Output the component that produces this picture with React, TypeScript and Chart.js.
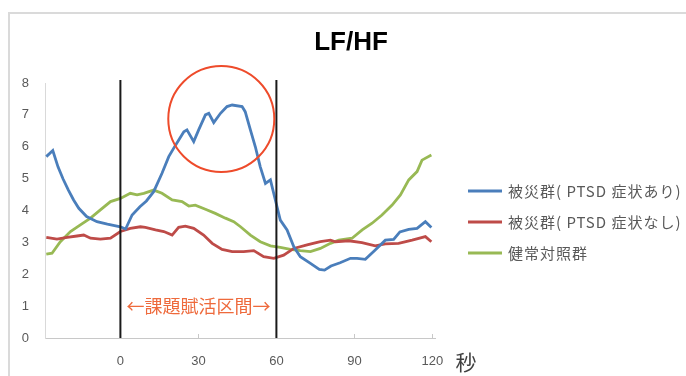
import { useEffect, useRef } from 'react';
import { Chart, registerables } from 'chart.js';

Chart.register(...registerables);

// LF/HF time courses (seconds relative to task onset)
const seriesLabels = ['被災群( PTSD 症状あり)', '被災群( PTSD 症状なし)', '健常対照群'];
const seriesColors = ['#4a7ebb', '#be4b48', '#98b954'];

const ptsdYesSec = [-28.5, -26, -24, -22, -20, -18, -16, -13, -9, -5, 0, 2, 4.5, 7.5, 10, 12.8, 16, 18.6, 21.2, 24.4, 25.6, 28.2, 30.1, 32.7, 34, 35.9, 38.5, 41, 43, 46.8, 48, 50, 51.9, 53.8, 55.8, 57.7, 59.6, 61.5, 64.1, 66.7, 69.2, 73.1, 76.5, 78.5, 81, 84.5, 88.5, 91, 94.2, 98, 101.9, 105.1, 107.5, 110.9, 114.1, 117.3, 119.6];
const ptsdYesLfhf = [5.69, 5.88, 5.37, 4.98, 4.64, 4.33, 4.07, 3.81, 3.65, 3.57, 3.49, 3.42, 3.86, 4.12, 4.3, 4.59, 5.17, 5.69, 6.05, 6.47, 6.53, 6.16, 6.53, 7.0, 7.05, 6.76, 7.05, 7.26, 7.31, 7.26, 7.1, 6.53, 6.0, 5.37, 4.85, 4.96, 4.33, 3.7, 3.39, 2.86, 2.55, 2.34, 2.15, 2.13, 2.26, 2.36, 2.5, 2.5, 2.47, 2.76, 3.07, 3.09, 3.33, 3.41, 3.44, 3.65, 3.47];

const ptsdNoSec = [-28.5, -24.4, -20.5, -16.7, -14.1, -11.5, -7.7, -3.8, 0, 3.8, 7.7, 9.6, 13.5, 16.7, 19.9, 22.4, 25, 28.2, 32, 35.3, 39.1, 43, 47.4, 51.3, 55.1, 59, 62.8, 66.7, 71.8, 76.9, 80.8, 82.7, 87.8, 92.9, 98, 101.9, 107, 112.2, 117.3, 119.6];
const ptsdNoLfhf = [3.16, 3.1, 3.16, 3.2, 3.23, 3.13, 3.1, 3.13, 3.34, 3.44, 3.49, 3.47, 3.39, 3.34, 3.23, 3.47, 3.51, 3.44, 3.23, 2.97, 2.78, 2.71, 2.71, 2.74, 2.55, 2.5, 2.6, 2.81, 2.92, 3.02, 3.07, 3.02, 3.05, 2.99, 2.89, 2.95, 2.97, 3.07, 3.18, 3.02];

const controlSec = [-28.5, -26.3, -23.1, -19.2, -15.4, -11.5, -7.7, -3.8, 0, 3.8, 6.4, 9, 12.8, 16, 19.9, 23.7, 26.3, 28.8, 32.7, 36.5, 40.4, 43.6, 46.2, 50, 53.8, 57.7, 61.5, 65.4, 69.2, 73.1, 76.9, 80.8, 84, 89.1, 93, 96.8, 100.6, 104.5, 107.7, 110.9, 114.1, 116, 119.6];
const controlLfhf = [2.63, 2.66, 3.02, 3.34, 3.55, 3.76, 4.02, 4.28, 4.38, 4.54, 4.49, 4.54, 4.64, 4.54, 4.33, 4.28, 4.14, 4.17, 4.04, 3.91, 3.76, 3.65, 3.49, 3.23, 3.02, 2.89, 2.84, 2.78, 2.74, 2.71, 2.81, 2.97, 3.07, 3.13, 3.39, 3.6, 3.86, 4.17, 4.49, 4.96, 5.22, 5.58, 5.74];

const xTicks = [0, 30, 60, 90, 120];
const taskWindow = [0, 60];
const taskLabel = '←課題賦活区間→';
const taskLabelLevel = 1;
const highlightCenter = { sec: 38.8, lfhf: 6.87 };
const chartTitle = 'LF/HF';
const xUnit = '秒';

const toPoints = (xs: number[], ys: number[]) => xs.map((x, i) => ({ x, y: ys[i] }));

const decorations = {
  id: 'decorations',
  afterDatasetsDraw(chart: any) {
    const { ctx, chartArea, scales } = chart;
    const xs = scales.x;
    const ys = scales.y;
    ctx.save();

    // inward tick marks on the time axis
    ctx.strokeStyle = '#c8c8c8';
    ctx.lineWidth = 1;
    xTicks.forEach((t) => {
      const px = Math.round(xs.getPixelForValue(t)) + 0.5;
      ctx.beginPath();
      ctx.moveTo(px, chartArea.bottom);
      ctx.lineTo(px, chartArea.bottom - 4);
      ctx.stroke();
    });

    // task window boundaries
    ctx.strokeStyle = '#1a1a1a';
    ctx.lineWidth = 2;
    taskWindow.forEach((t) => {
      const px = xs.getPixelForValue(t);
      ctx.beginPath();
      ctx.moveTo(px, chartArea.top - 3);
      ctx.lineTo(px, chartArea.bottom);
      ctx.stroke();
    });

    // task window caption
    const cx = (xs.getPixelForValue(taskWindow[0]) + xs.getPixelForValue(taskWindow[1])) / 2;
    ctx.fillStyle = '#ee6a3c';
    ctx.font = '18px "Noto Sans CJK JP"';
    ctx.textAlign = 'center';
    ctx.textBaseline = 'middle';
    ctx.fillText(taskLabel, cx, ys.getPixelForValue(taskLabelLevel));

    // highlight ring around the peak
    ctx.strokeStyle = '#ee4b2b';
    ctx.lineWidth = 2;
    ctx.beginPath();
    ctx.arc(xs.getPixelForValue(highlightCenter.sec), ys.getPixelForValue(highlightCenter.lfhf), 53, 0, Math.PI * 2);
    ctx.stroke();

    // title
    ctx.fillStyle = '#000000';
    ctx.font = 'bold 26px "Liberation Sans"';
    ctx.fillText(chartTitle, 351, 43);

    // unit label
    ctx.fillStyle = '#404040';
    ctx.font = '21px "Noto Sans CJK JP"';
    ctx.fillText(xUnit, 466, 362);

    // legend
    ctx.textAlign = 'left';
    ctx.font = '15px "Noto Sans CJK JP"';
    if ('letterSpacing' in ctx) ctx.letterSpacing = '1px';
    const rows = [191, 222, 253];
    chart.data.datasets.forEach((ds: any, i: number) => {
      const y = rows[i];
      ctx.strokeStyle = ds.borderColor;
      ctx.lineWidth = 3;
      ctx.beginPath();
      ctx.moveTo(468, y);
      ctx.lineTo(502, y);
      ctx.stroke();
      ctx.fillStyle = '#595959';
      ctx.fillText(ds.label, 508, y);
    });

    ctx.restore();
  },
};

export default function App() {
  const canvasRef = useRef<HTMLCanvasElement | null>(null);

  useEffect(() => {
    if (!canvasRef.current) return;
    const seriesX = [ptsdYesSec, ptsdNoSec, controlSec];
    const seriesY = [ptsdYesLfhf, ptsdNoLfhf, controlLfhf];
    const chart = new Chart(canvasRef.current, {
      type: 'line',
      data: {
        datasets: seriesLabels.map((label, i) => ({
          label,
          data: toPoints(seriesX[i], seriesY[i]),
          borderColor: seriesColors[i],
          backgroundColor: seriesColors[i],
          borderWidth: 2.8,
          pointRadius: 0,
          tension: 0,
          fill: false,
        })),
      },
      options: {
        responsive: false,
        animation: false,
        layout: { padding: { left: 0, right: 251, top: 83, bottom: 0 } },
        plugins: {
          legend: { display: false },
          title: { display: false },
          tooltip: { enabled: false },
        },
        scales: {
          x: {
            type: 'linear',
            min: -29,
            max: 121,
            afterBuildTicks: (scale: any) => {
              scale.ticks = xTicks.map((value) => ({ value }));
            },
            afterFit: (scale: any) => {
              scale.height = 38;
            },
            grid: { display: false, drawTicks: false },
            border: { display: true, color: '#c8c8c8', width: 1 },
            ticks: {
              padding: 16,
              color: '#595959',
              font: { family: '"Liberation Sans"', size: 13 },
              maxRotation: 0,
            },
          },
          y: {
            min: 0,
            max: 8,
            afterFit: (scale: any) => {
              scale.width = 45;
            },
            grid: { display: false, drawTicks: false },
            border: { display: true, color: '#d9d9d9', width: 1 },
            ticks: {
              stepSize: 1,
              padding: 16,
              color: '#595959',
              font: { family: '"Liberation Sans"', size: 13 },
            },
          },
        },
      },
      plugins: [decorations],
    });
    return () => chart.destroy();
  }, []);

  return (
    <div style={{ position: 'fixed', left: 0, top: 0, width: 686, height: 376, overflow: 'hidden', background: '#ffffff' }}>
      <div
        style={{
          position: 'absolute',
          left: 8,
          top: 12,
          width: 720,
          height: 420,
          borderLeft: '2px solid #dadada',
          borderTop: '2px solid #dadada',
        }}
      />
      <canvas ref={canvasRef} width={686} height={376} style={{ position: 'absolute', left: 0, top: 0 }} />
    </div>
  );
}
